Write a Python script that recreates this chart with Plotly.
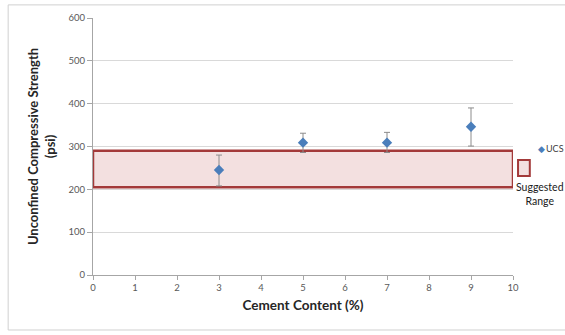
import plotly.graph_objects as go

cement = [3, 5, 7, 9]
ucs = [245, 309, 309, 346]
err_plus = [35, 22, 24, 44]
err_minus = [37, 23, 23, 45]
range_low = 205
range_high = 290
x_ticks = list(range(0, 11))
y_ticks = [0, 100, 200, 300, 400, 500, 600]

FONT = "Lato, 'Open Sans', sans-serif"
RED = "#A33A3A"
FILL = "#F3E0E0"

fig = go.Figure()
fig.add_shape(type="rect", xref="x", yref="y", x0=0, x1=10, y0=range_low, y1=range_high,
              line=dict(color=RED, width=2.5), fillcolor=FILL, layer="below")
fig.add_trace(go.Scatter(
    x=cement, y=ucs, mode="markers", name="UCS",
    marker=dict(symbol="diamond", size=8, color="#4A7EBB"),
    error_y=dict(type="data", array=err_plus, arrayminus=err_minus,
                 color="#8C8C8C", thickness=1, width=3),
    showlegend=False,
))

# outer chart border
fig.add_shape(type="rect", xref="paper", yref="paper", x0=-0.202, x1=1.3, y0=-0.214, y1=1.051,
              line=dict(color="#D0D0D0", width=1), fillcolor="rgba(0,0,0,0)", layer="below")
# custom legend
fig.add_annotation(xref="paper", yref="paper", x=1.067, y=0.494, text="\u25c6", showarrow=False,
                   font=dict(size=9, color="#4A7EBB", family=FONT), xanchor="center", yanchor="middle")
fig.add_annotation(xref="paper", yref="paper", x=1.074, y=0.494, text="UCS", showarrow=False,
                   font=dict(size=9, color="#404040", family=FONT), xanchor="left", yanchor="middle")
fig.add_shape(type="rect", xref="paper", yref="paper", x0=1.012, x1=1.040, y0=0.385, y1=0.447,
              line=dict(color=RED, width=2), fillcolor=FILL)
fig.add_annotation(xref="paper", yref="paper", x=1.003, y=0.317, text="Suggested<br>Range", showarrow=False,
                   font=dict(size=10.5, color="#202020", family=FONT), xanchor="left", yanchor="middle",
                   align="center")

fig.update_layout(
    width=565, height=335,
    margin=dict(l=93, r=52, t=18, b=60, autoexpand=False),
    paper_bgcolor="white", plot_bgcolor="white",
    font=dict(family=FONT, color="#595959", size=9.5),
)
fig.update_xaxes(range=[0, 10], tickvals=x_ticks, showgrid=False, showline=True, linecolor="#A6A6A6",
                 ticks="outside", ticklen=4, tickcolor="#A6A6A6", zeroline=False, automargin=False,
                 title=dict(text="<b>Cement Content (%)</b>", font=dict(size=13.5, color="#262626"), standoff=8),
                 tickfont=dict(size=9.5, color="#595959"))
fig.update_yaxes(range=[0, 600], tickvals=y_ticks, showgrid=True, gridcolor="#D9D9D9", showline=True,
                 linecolor="#A6A6A6", ticks="outside", ticklen=5, tickcolor="#A6A6A6", zeroline=False,
                 automargin=False,
                 title=dict(text="<b>Unconfined Compressive Strength<br>(psi)</b>", font=dict(size=13, color="#262626"),
                            standoff=10),
                 tickfont=dict(size=9.5, color="#595959"))

fig.write_html("out.html", config={"displayModeBar": False},
               post_script="document.body.style.margin='0';document.body.style.overflow='hidden';")
